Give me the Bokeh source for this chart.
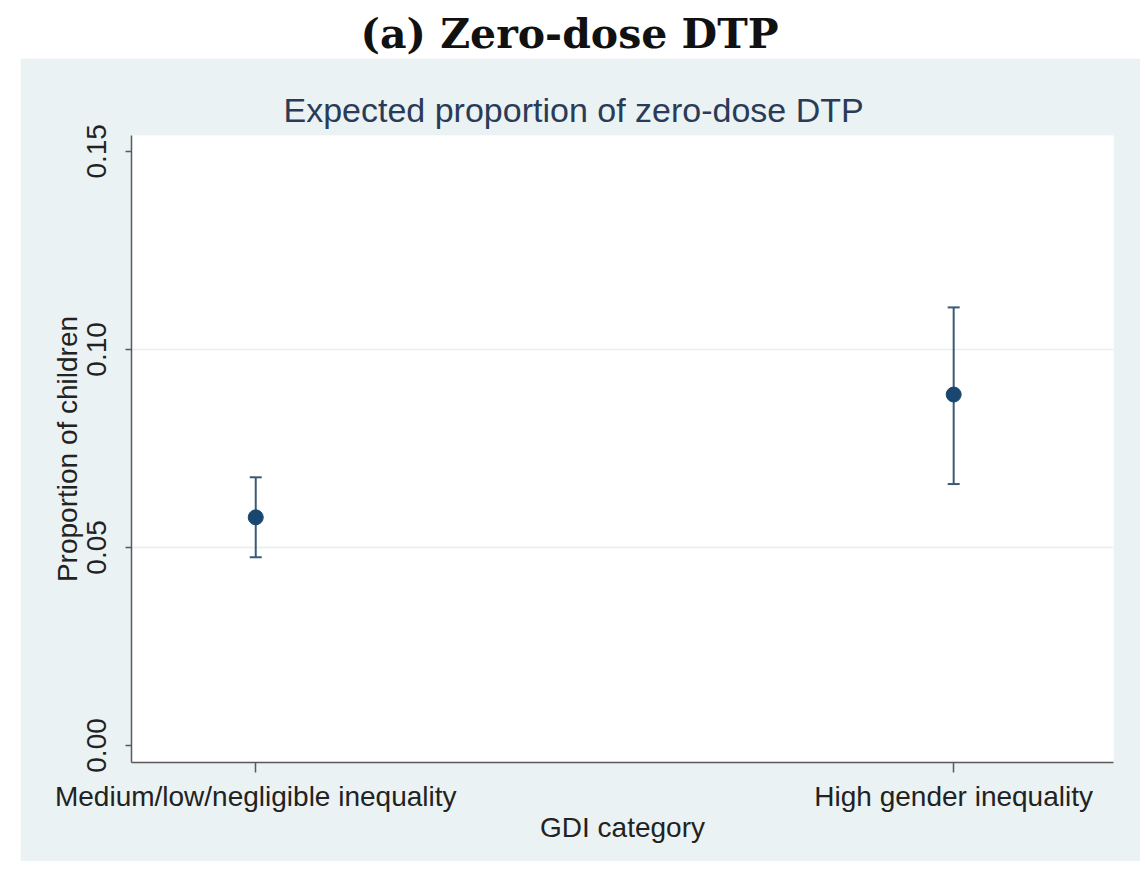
from bokeh.plotting import figure
from bokeh.models import ColumnDataSource, Whisker, TeeHead, FixedTicker, Range1d, Div
from bokeh.layouts import column
from bokeh.embed import file_html
from bokeh.resources import INLINE

# ---- data ----
categories = ["Medium/low/negligible inequality", "High gender inequality"]
cat_pos = [1, 2]
estimate = [0.0576, 0.0886]
ci_lower = [0.0475, 0.0660]
ci_upper = [0.0677, 0.1106]
y_ticks = [0.00, 0.05, 0.10, 0.15]
y_tick_labels = ["0.00", "0.05", "0.10", "0.15"]
grid_ticks = [0.05, 0.10]

panel_title = "(a) Zero-dose DTP"
chart_title = "Expected proportion of zero-dose DTP"
x_label = "GDI category"
y_label = "Proportion of children"

GRAY = "#EAF2F3"
NAVY = "#1A476F"
SANS = "Liberation Sans"

src = ColumnDataSource(dict(x=cat_pos, est=estimate, lo=ci_lower, hi=ci_upper))

p = figure(width=1120, height=803,
           x_range=Range1d(0.822, 2.229), y_range=Range1d(-0.0043, 0.1540),
           output_backend="svg", toolbar_location=None,
           min_border_left=111, min_border_right=27,
           min_border_top=77, min_border_bottom=99,
           title=chart_title)
p.margin = (0, 0, 0, 20)

p.border_fill_color = GRAY
p.background_fill_color = "white"
p.outline_line_color = None

p.title.align = "left"
p.title.offset = 152
p.title.standoff = 13
p.title.text_font = SANS
p.title.text_font_size = "34px"
p.title.text_font_style = "normal"
p.title.text_color = "#2a3b57"

# axes
p.xaxis.ticker = FixedTicker(ticks=cat_pos)
p.xaxis.major_label_overrides = dict(zip(cat_pos, categories))
p.yaxis.ticker = FixedTicker(ticks=y_ticks)
p.yaxis.major_label_overrides = dict(zip(y_ticks, y_tick_labels))
p.yaxis.major_label_orientation = "vertical"

for ax in (p.xaxis, p.yaxis):
    ax.axis_line_color = "#5a5a5a"
    ax.axis_line_width = 1.5
    ax.major_tick_line_color = "#5a5a5a"
    ax.major_tick_line_width = 1.5
    ax.major_tick_in = 0
    ax.minor_tick_line_color = None
    ax.major_label_text_font = SANS
    ax.major_label_text_font_size = "28px"
    ax.major_label_text_color = "#222222"
    ax.axis_label_text_font = SANS
    ax.axis_label_text_font_size = "28px"
    ax.axis_label_text_font_style = "normal"
    ax.axis_label_text_color = "#222222"

p.xaxis.axis_label = x_label
p.yaxis.axis_label = y_label
p.xaxis.major_tick_out = 10
p.yaxis.major_tick_out = 6
p.xaxis.major_label_standoff = 8
p.yaxis.major_label_standoff = 19
p.xaxis.axis_label_standoff = -3
p.yaxis.axis_label_standoff = 2

p.xgrid.visible = False
p.ygrid.ticker = FixedTicker(ticks=grid_ticks)
p.ygrid.grid_line_color = "#e6eef0"
p.ygrid.grid_line_width = 1.5

# error bars
w = Whisker(base="x", lower="lo", upper="hi", source=src,
            line_color="#3b5877", line_width=2,
            upper_head=TeeHead(size=12, line_color="#3b5877", line_width=2),
            lower_head=TeeHead(size=12, line_color="#3b5877", line_width=2))
p.add_layout(w)
p.scatter("x", "est", source=src, size=15, color=NAVY)

header = Div(text=('<div style="width:1129px;text-align:center;'
                   'font-family:\'DejaVu Serif\';font-weight:bold;font-size:41px;'
                   'line-height:41px;color:#111;margin-top:9px">%s</div>' % panel_title),
             width=1129, height=48)

layout = column(header, p, spacing=0)

open("out.html", "w").write(file_html(layout, INLINE))
